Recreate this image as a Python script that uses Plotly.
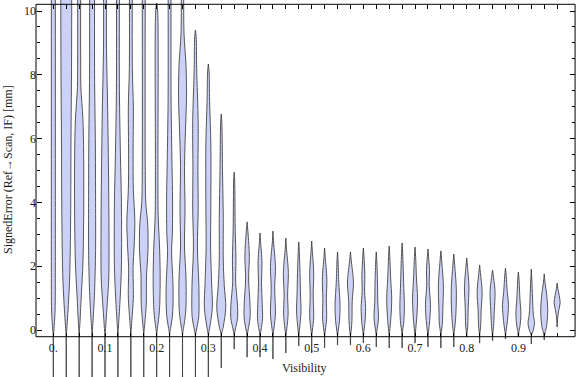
import plotly.graph_objects as go

# ---------------- data ----------------
visibility = [0.0, 0.025, 0.05, 0.075, 0.1, 0.125, 0.15, 0.175, 0.2, 0.225,
              0.25, 0.275, 0.3, 0.325, 0.35, 0.375, 0.4, 0.425, 0.45, 0.475,
              0.5, 0.525, 0.55, 0.575, 0.6, 0.625, 0.65, 0.675, 0.7, 0.725,
              0.75, 0.775, 0.8, 0.825, 0.85, 0.875, 0.9, 0.925, 0.95, 0.975]

# density profile of each violin: signed error levels (mm), high to low
knot_err = [
    [11, 8, 5, 2, 0.6, 0, -0.15, -1.6],
    [11, 8, 6, 4, 2.5, 1.5, 0.6, 0, -0.12, -1.6],
    [11, 8.5, 7.6, 6.6, 5.5, 3.5, 2.1, 1, 0.2, -0.1, -1.6],
    [11, 8, 6, 4, 2.5, 1.2, 0.3, -0.1, -1.6],
    [11, 8.8, 7.2, 5, 3, 1.6, 0.6, 0, -0.15, -1.6],
    [11, 7.5, 5.5, 4, 2, 1, 0.2, -0.1, -1.6],
    [11, 8.2, 7, 5.5, 4.4, 3.4, 2.6, 2.0, 1.0, 0.3, -0.1, -1.6],
    [11, 5, 4, 3.3, 2.5, 1.7, 0.8, 0.1, -0.1, -1.6],
    [10.25, 10, 5, 3.6, 2.5, 1.5, 0.6, 0.1, -0.1, -1.6],
    [11, 7.2, 5.5, 4, 3.0, 2.5, 1.3, 0.5, 0.05, -0.1, -1.6],
    [11, 9.3, 8.3, 7.3, 6.3, 5.1, 3.8, 2.6, 1.6, 0.6, 0.05, -0.1, -1.6],
    [9.4, 9.2, 8.2, 6.5, 5, 3.8, 2.6, 1.3, 0.4, 0, -0.15, -1.6],
    [8.34, 8.1, 7.2, 5.8, 4, 2.6, 1.5, 0.7, 0.1, -0.15, -1.6],
    [6.77, 6.5, 5, 3.5, 2.2, 1.4, 0.7, 0.1, -0.15, -1.19],
    [4.95, 4.7, 3.2, 2.2, 1.5, 0.8, 0.4, 0.0, -0.15, -0.6],
    [3.39, 3.2, 2.8, 2.3, 1.6, 0.9, 0.4, 0, -0.15, -0.85],
    [3.04, 2.8, 2.1, 1.5, 0.8, 0.35, 0, -0.15, -0.85],
    [3.1, 2.8, 2.0, 1.3, 0.5, 0.05, -0.15, -0.91],
    [2.88, 2.6, 1.8, 1.1, 0.5, 0.05, -0.15, -0.72],
    [2.76, 2.5, 1.8, 1.1, 0.6, 0.1, -0.15, -0.5],
    [2.79, 2.5, 1.8, 1.1, 0.4, 0.0, -0.15, -0.72],
    [2.57, 2.3, 1.6, 1.0, 0.35, 0.0, -0.15, -0.56],
    [2.45, 2.2, 1.5, 0.8, 0.3, 0, -0.15, -0.47],
    [2.45, 2.2, 1.5, 0.9, 0.3, 0, -0.15, -0.47],
    [2.57, 2.3, 1.7, 1.2, 0.7, 0.2, -0.05, -0.15, -0.41],
    [2.45, 2.2, 1.5, 0.9, 0.4, 0.05, -0.15, -0.53],
    [2.63, 2.3, 1.6, 1.0, 0.4, 0.05, -0.15, -0.56],
    [2.73, 2.4, 1.5, 0.7, 0.2, 0, -0.15, -0.56],
    [2.6, 2.3, 1.6, 1.0, 0.4, 0.05, -0.15, -0.41],
    [2.54, 2.3, 1.9, 1.4, 0.8, 0.3, 0.0, -0.15, -0.53],
    [2.48, 2.2, 1.4, 0.7, 0.2, -0.05, -0.15, -0.56],
    [2.38, 2.1, 1.3, 0.6, 0.15, -0.05, -0.15, -0.53],
    [2.26, 2.0, 1.35, 0.7, 0.1, -0.1, -0.22],
    [2.04, 1.8, 1.2, 0.6, 0.1, -0.1, -0.41],
    [1.88, 1.65, 1.2, 0.6, 0.1, -0.1, -0.34],
    [1.94, 1.7, 1.2, 0.8, 0.3, 0.0, -0.1, -0.28],
    [1.82, 1.6, 1.0, 0.5, 0.1, -0.05, -0.22],
    [1.91, 1.6, 1.0, 0.5, 0.2, -0.05, -0.15, -0.44],
    [1.76, 1.5, 1.1, 0.6, 0.15, -0.1, -0.2, -0.31],
    [1.47, 1.3, 0.85, 0.6, 0.35, 0.09],
]
# relative density at each level
knot_density = [
    [4, 4, 4, 4, 3.5, 1.2, 0.4, 0.3],
    [11, 10.5, 9.5, 9, 8, 6.5, 3.5, 1, 0.4, 0.3],
    [3, 3, 3.5, 7.5, 9, 9, 7.5, 4, 1.5, 0.4, 0.3],
    [5, 5, 6.5, 7, 7, 5, 2, 0.4, 0.3],
    [3, 3, 5, 7, 8, 7.5, 3.5, 1, 0.4, 0.3],
    [3, 3, 5, 7, 7, 4.5, 1.5, 0.4, 0.3],
    [3, 3, 5, 4.5, 5, 8, 6.5, 4.5, 5, 2, 0.4, 0.3],
    [3, 3, 4, 8, 8.5, 5.5, 5, 1.5, 0.4, 0.3],
    [0, 2, 2.5, 3, 6, 7, 5.5, 2, 0.4, 0.3],
    [3, 3, 4.5, 6, 5.5, 4, 7, 6, 2, 0.4, 0.3],
    [2.5, 3, 7, 8, 6, 4, 5, 4, 7, 6.5, 2, 0.4, 0.3],
    [0, 1.5, 2.5, 5.5, 5, 5.5, 4, 7, 6.5, 2, 0.4, 0.3],
    [0, 1.5, 2.5, 5, 5, 4.5, 6.5, 8, 3, 0.4, 0.3],
    [0, 1.2, 2.5, 4, 4, 6, 9, 4, 0.4, 0.3],
    [0, 1, 2, 3.5, 3, 6.5, 7, 2, 0.4, 0.3],
    [0, 1, 3, 4.5, 3, 5.5, 6, 2, 0.4, 0.3],
    [0, 1, 4, 3, 4.5, 5, 2, 0.4, 0.3],
    [0, 1, 5, 3.5, 5, 2, 0.4, 0.3],
    [0, 1, 5, 3.5, 4.5, 2, 0.4, 0.3],
    [0, 1, 2.5, 3.5, 4.5, 2, 0.4, 0.3],
    [0, 1.2, 4, 3, 4, 1.5, 0.4, 0.3],
    [0, 1.2, 4.5, 3.5, 4, 1.5, 0.4, 0.3],
    [0, 1, 2.5, 5, 4, 1.5, 0.4, 0.3],
    [0, 1.5, 6, 3.5, 3, 1.5, 0.4, 0.3],
    [0, 1.2, 3, 2.5, 4.5, 3, 1, 0.4, 0.3],
    [0, 1, 2.5, 3, 4.5, 2, 0.4, 0.3],
    [0, 1.2, 3, 5, 3.5, 1.5, 0.4, 0.3],
    [0, 1.2, 3, 4.5, 3, 1.2, 0.4, 0.3],
    [0, 1.2, 3, 5, 3.5, 1.5, 0.4, 0.3],
    [0, 1.2, 3, 2.5, 5, 3.5, 1.5, 0.4, 0.3],
    [0, 1.5, 5, 4, 3, 1, 0.4, 0.3],
    [0, 1.5, 5, 4.5, 2.5, 1, 0.4, 0.3],
    [0, 1.5, 4.5, 3, 2, 0.5, 0.3],
    [0, 1.5, 5, 3, 2, 0.5, 0.3],
    [0, 2, 5, 3.5, 2, 0.5, 0.3],
    [0, 1.5, 3.5, 6, 4, 1.5, 0.5, 0.3],
    [0, 1.2, 3, 5, 3, 1, 0.3],
    [0, 1, 2.5, 4, 6.5, 3, 0.5, 0.3],
    [0, 1.5, 5, 7, 5, 1.5, 0.4, 0.3],
    [0, 1.5, 6, 3, 1, 0],
]

x_tick_vals = visibility
x_tick_text = ["0.", "", "", "", "0.1", "", "", "", "0.2", "", "", "", "0.3", "", "", "",
               "0.4", "", "", "", "0.5", "", "", "", "0.6", "", "", "", "0.7", "", "", "",
               "0.8", "", "", "", "0.9", "", "", ""]
y_major = [0, 2, 4, 6, 8, 10]
y_minor = [0.5, 1, 1.5, 2.5, 3, 3.5, 4.5, 5, 5.5, 6.5, 7, 7.5, 8.5, 9, 9.5]

# ---------------- styling / layout ----------------
W, H = 576, 377
XR = [-0.1032, 1.0115]
YR = [-1.473, 10.345]
DENS_SCALE = 0.5 / 516.7  # density unit -> half-width in x units
FILL = "rgb(204,210,247)"
EDGE = "rgba(60,60,60,0.85)"
FONT = "Liberation Serif"

fig = go.Figure()
for c, ev, dv in zip(visibility, knot_err, knot_density):
    hw = [d * DENS_SCALE for d in dv]
    # left edge of the violin
    fig.add_trace(go.Scatter(
        x=[c - h for h in hw], y=ev, mode="lines",
        line=dict(color=EDGE, width=1, shape="spline", smoothing=0.9),
        hoverinfo="skip", showlegend=False))
    # right edge, filled towards the left edge
    fig.add_trace(go.Scatter(
        x=[c + h for h in hw], y=ev, mode="lines", fill="tonextx",
        fillcolor=FILL,
        line=dict(color=EDGE, width=1, shape="spline", smoothing=0.9),
        hoverinfo="skip", showlegend=False))

# helper invisible traces so mirrored axes render
fig.add_trace(go.Scatter(x=[0.5], y=[5], xaxis="x2", yaxis="y", mode="markers",
                         marker=dict(opacity=0), hoverinfo="skip", showlegend=False))
fig.add_trace(go.Scatter(x=[0.5], y=[5], xaxis="x", yaxis="y2", mode="markers",
                         marker=dict(opacity=0), hoverinfo="skip", showlegend=False))

FRAME_X = [-0.0335, 1.0097]
FRAME_Y = [-0.21, 10.21]

tickfont = dict(family=FONT, size=12, color="#1a1a1a")

fig.update_layout(
    width=W, height=H,
    margin=dict(l=0, r=0, t=0, b=0, pad=0, autoexpand=False),
    paper_bgcolor="white", plot_bgcolor="white",
    xaxis=dict(range=XR, domain=[0, 1], anchor="free",
               position=(H - 336.7) / H, automargin=False,
               showline=False, showgrid=False, zeroline=False,
               tickmode="array", tickvals=x_tick_vals, ticktext=x_tick_text,
               ticks="inside", ticklen=4, tickcolor="black", tickwidth=1,
               ticklabelstandoff=2, tickfont=tickfont),
    xaxis2=dict(range=XR, overlaying="x", matches="x", side="top", anchor="free",
                position=(H - 4.3) / H, showline=False, showgrid=False,
                automargin=False,
                zeroline=False, tickmode="array", tickvals=x_tick_vals,
                ticks="inside", ticklen=4, tickcolor="black", showticklabels=False),
    yaxis=dict(range=YR, domain=[0, 1], anchor="free", position=36 / W,
               automargin=False,
               showline=False, showgrid=False, zeroline=False,
               tickmode="array", tickvals=y_major,
               ticktext=[str(v) for v in y_major],
               ticks="inside", ticklen=5, tickcolor="black", tickwidth=1,
               tickfont=tickfont,
               minor=dict(tickmode="array", tickvals=y_minor, ticks="inside",
                          ticklen=3, tickcolor="black", showgrid=False)),
    yaxis2=dict(range=YR, overlaying="y", matches="y", side="right",
                anchor="free", position=575 / W, showline=False,
                automargin=False,
                showgrid=False, zeroline=False, tickmode="array",
                tickvals=y_major, ticks="inside", ticklen=5,
                tickcolor="black", showticklabels=False,
                minor=dict(tickmode="array", tickvals=y_minor, ticks="inside",
                           ticklen=3, tickcolor="black", showgrid=False)),
    shapes=[dict(type="rect", xref="x", yref="y",
                 x0=FRAME_X[0], x1=FRAME_X[1], y0=FRAME_Y[0], y1=FRAME_Y[1],
                 line=dict(color="black", width=1), layer="above")],
    annotations=[
        dict(text="Visibility", xref="paper", yref="paper",
             x=304 / W, y=(H - 368) / H, xanchor="center", yanchor="middle",
             showarrow=False,
             font=dict(family=FONT, size=12, color="#1a1a1a")),
        dict(text="SignedError (Ref\u2192Scan, IF) [mm]", xref="paper",
             yref="paper", x=8 / W, y=(H - 170) / H, textangle=-90,
             xanchor="center", yanchor="middle",
             showarrow=False, font=dict(family=FONT, size=12, color="#1a1a1a")),
    ],
)

fig.write_html("out.html",
               config={"displayModeBar": False},
               post_script="document.body.style.margin='0';"
                           "document.body.style.overflow='hidden';")
